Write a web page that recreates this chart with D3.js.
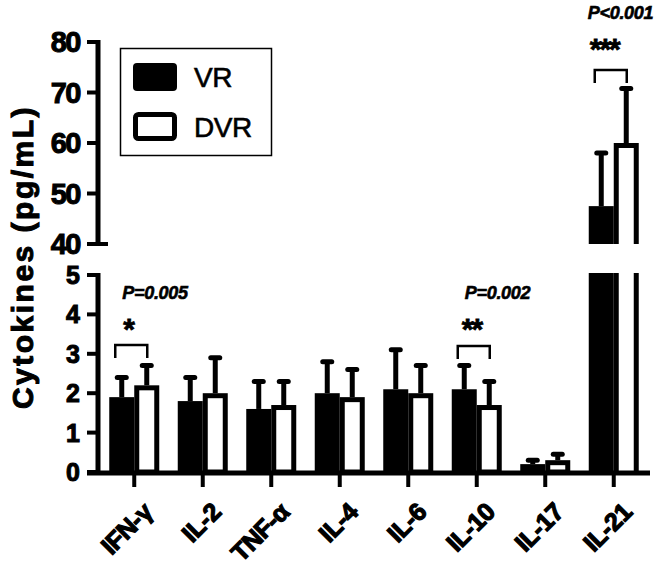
<!DOCTYPE html>
<html><head><meta charset="utf-8">
<script src="https://cdn.jsdelivr.net/npm/d3@7"></script>
<style>body{margin:0;background:#fff}svg{display:block}text{font-family:"Liberation Sans",Arial,sans-serif}</style>
</head><body>
<svg id="c" width="661" height="577"></svg>
<script>
const categories = ["IFN-γ","IL-2","TNF-α","IL-4","IL-6","IL-10","IL-17","IL-21"];
const seriesNames = ["VR","DVR"];
const vrMean = [1.9,1.8,1.6,2.0,2.1,2.1,0.2,47.5];
const vrErr  = [2.4,2.4,2.3,2.8,3.1,2.7,0.3,58.0];
const dvrMean= [2.2,2.0,1.7,1.9,2.0,1.7,0.3,60.0];
const dvrErr = [2.7,2.9,2.3,2.6,2.7,2.3,0.45,70.8];
const lowTicks = [0,1,2,3,4,5];
const highTicks = [40,50,60,70,80];
const sigs = [{cat:"IFN-γ",p:"P=0.005",stars:"*"},{cat:"IL-10",p:"P=0.002",stars:"**"},{cat:"IL-21",p:"P<0.001",stars:"***"}];

const svg = d3.select("#c");
const yLow = d3.scaleLinear([0,5],[472,275]);
const yHigh = d3.scaleLinear([40,80],[244,42]);
const x = d3.scaleBand(categories,[100,648]);
const bw = 25, sw = 5;
const center = c => x(c) + x.bandwidth()/2;

// y axis segments
const axX = 98;
function yAxis(scale, ticks, fs){
  const g = svg.append("g");
  const r = scale.range();
  g.append("line").attr("x1",axX).attr("x2",axX).attr("y1",r[0]+2).attr("y2",r[1]-2).attr("stroke","#000").attr("stroke-width",5);
  ticks.forEach(t=>{
    g.append("line").attr("x1",87).attr("x2",axX).attr("y1",scale(t)).attr("y2",scale(t)).attr("stroke","#000").attr("stroke-width",4);
    g.append("text").attr("x",80).attr("y",scale(t)).attr("dy","0.36em").attr("text-anchor","end")
      .attr("font-size",fs).attr("font-weight","bold").attr("stroke","#000").attr("stroke-width",1)
      .attr("letter-spacing",fs>26?-1.5:0).text(t);
  });
}
yAxis(yHigh, highTicks, 29);
yAxis(yLow, lowTicks, 25);
svg.append("line").attr("x1",axX).attr("x2",108).attr("y1",yHigh(40)).attr("y2",yHigh(40)).attr("stroke","#000").attr("stroke-width",4);

// x axis
svg.append("line").attr("x1",87).attr("x2",650).attr("y1",473).attr("y2",473).attr("stroke","#000").attr("stroke-width",5);
categories.forEach(c=>{
  svg.append("line").attr("x1",center(c)).attr("x2",center(c)).attr("y1",473).attr("y2",487).attr("stroke","#000").attr("stroke-width",4);
  svg.append("text").attr("transform",`translate(${center(c)+9},${503}) rotate(-45)`)
    .attr("text-anchor","end").attr("dy","0.6em").attr("font-size",25).attr("font-weight","bold")
    .attr("stroke","#000").attr("stroke-width",1.2).attr("letter-spacing",-0.5).text(c);
});

// bars
function drawBar(c, v, e, filled){
  const cx = center(c);
  const x0 = filled ? cx - bw : cx;
  const bc = x0 + bw/2;
  if (v <= 5){
    if (filled) svg.append("rect").attr("x",x0).attr("y",yLow(v)).attr("width",bw).attr("height",yLow(0)-yLow(v)).attr("fill","#000");
    else svg.append("rect").attr("x",x0+sw/2).attr("y",yLow(v)+sw/2).attr("width",bw-sw).attr("height",yLow(0)-yLow(v)-sw/2).attr("fill","#fff").attr("stroke","#000").attr("stroke-width",sw);
    errBar(bc, yLow(v), yLow(e));
  } else {
    if (filled){
      svg.append("rect").attr("x",x0).attr("y",yLow(5)-2).attr("width",bw).attr("height",yLow(0)-yLow(5)+2).attr("fill","#000");
      svg.append("rect").attr("x",x0).attr("y",yHigh(v)).attr("width",bw).attr("height",yHigh(40)-yHigh(v)).attr("fill","#000");
    } else {
      [x0+sw/2, x0+bw-sw/2].forEach(lx=>{
        svg.append("line").attr("x1",lx).attr("x2",lx).attr("y1",yLow(5)-2).attr("y2",yLow(0)).attr("stroke","#000").attr("stroke-width",sw);
      });
      svg.append("path").attr("d",`M${x0+sw/2},${yHigh(40)}V${yHigh(v)+sw/2}H${x0+bw-sw/2}V${yHigh(40)}`).attr("fill","#fff").attr("stroke","#000").attr("stroke-width",sw);
    }
    errBar(bc, yHigh(v), yHigh(e));
  }
}
function errBar(cx, y0, y1){
  svg.append("line").attr("x1",cx).attr("x2",cx).attr("y1",y0).attr("y2",y1).attr("stroke","#000").attr("stroke-width",5);
  svg.append("rect").attr("x",cx-7).attr("y",y1-2.5).attr("width",14).attr("height",5).attr("rx",2.5).attr("fill","#000");
}
categories.forEach((c,i)=>{
  drawBar(c, vrMean[i], vrErr[i], true);
  drawBar(c, dvrMean[i], dvrErr[i], false);
});

// significance
const sigPos = {"IFN-γ":{yb:345,ys:339,yp:299},"IL-10":{yb:346,ys:339,yp:299},"IL-21":{yb:70,ys:59,yp:19}};
sigs.forEach(s=>{
  const cx = center(s.cat), p = sigPos[s.cat];
  const bx0 = cx-19, bx1 = cx+13;
  svg.append("path").attr("d",`M${bx0},${p.yb+13}V${p.yb}H${bx1}V${p.yb+13}`).attr("fill","none").attr("stroke","#000").attr("stroke-width",2.5);
  svg.append("text").attr("x",bx0+(s.stars.length>2?-5:s.stars.length>1?4:8)).attr("y",p.ys).attr("font-size",30).attr("font-weight","bold")
    .attr("stroke","#000").attr("stroke-width",0.8).attr("letter-spacing",-2).text(s.stars);
  svg.append("text").attr("x",bx0+(s.cat==="IL-21"?-7:7)).attr("y",p.yp).attr("font-size",18).attr("font-weight","bold").attr("font-style","italic")
    .attr("stroke","#000").attr("stroke-width",0.6).attr("letter-spacing",-0.3).text(s.p);
});

// legend
const lg = svg.append("g");
lg.append("rect").attr("x",120.5).attr("y",48.5).attr("width",151).attr("height",107).attr("fill","#fff").attr("stroke","#000").attr("stroke-width",1.5);
lg.append("rect").attr("x",133).attr("y",63).attr("width",44).attr("height",28).attr("rx",4).attr("fill","#000");
lg.append("rect").attr("x",135.5).attr("y",114.5).attr("width",39).attr("height",24).attr("rx",3).attr("fill","#fff").attr("stroke","#000").attr("stroke-width",5);
seriesNames.forEach((n,i)=>{
  lg.append("text").attr("x",194).attr("y",i?127:77).attr("dy","0.36em").attr("font-size",28)
    .attr("stroke","#000").attr("stroke-width",0.6).attr("letter-spacing",-0.5).text(n);
});

// y label
svg.append("text").attr("transform","translate(33,257) rotate(-90)").attr("text-anchor","middle")
  .attr("font-size",30).attr("font-weight","bold").attr("stroke","#000").attr("stroke-width",1)
  .attr("letter-spacing",2.5).text("Cytokines (pg/mL)");
</script>
</body></html>
